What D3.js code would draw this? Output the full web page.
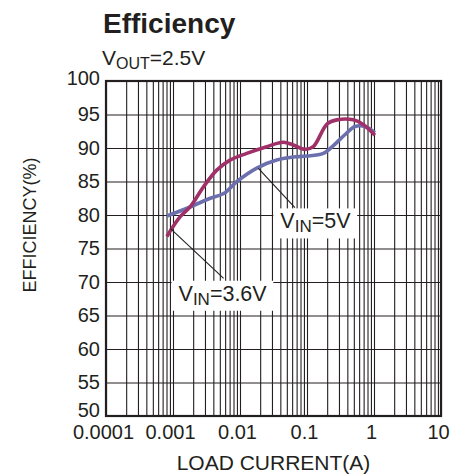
<!DOCTYPE html>
<html lang="en">
<head>
    <meta charset="UTF-8">
    <title>Efficiency</title>
    <script src="https://d3js.org/d3.v7.min.js"></script>
    <style>
        body {
            margin: 0;
            background-color: #ffffff;
            font-family: "Liberation Sans", Arial, sans-serif;
        }
        svg text {
            fill: #231f20;
        }
    </style>
</head>
<body>
    <svg id="chart" width="460" height="474"></svg>
    <script>
        // load current (A) and efficiency (%)
        const current36 = [0.00081, 0.00128, 0.0018, 0.00285, 0.0045, 0.0071, 0.0126, 0.025, 0.0444, 0.0625, 0.093, 0.124, 0.2, 0.28, 0.49, 0.69, 1.03];
        const eff36     = [76.8,    79.75,   81.2,   84.2,    86.7,   88.2,   89.2,   90.2,  90.85,  90.45,  89.8,  90.2,  93.6, 94.2, 94.2, 93.5, 91.9];
        const current5  = [0.00081, 0.0018, 0.0036, 0.0057, 0.009, 0.0178, 0.0353, 0.0703, 0.099, 0.175, 0.25, 0.36, 0.52, 0.73, 1.03];
        const eff5      = [79.85,   81.2,   82.5,   83.2,   85.0,  87.0,   88.2,   88.7,   88.8,  89.2,  90.4, 91.9, 93.2, 93.2, 92.3];

        const xMajor = [0.0001, 0.001, 0.01, 0.1, 1, 10];
        const xLabels = ['0.0001', '0.001', '0.01', '0.1', '1', '10'];
        const yTicks = [50, 55, 60, 65, 70, 75, 80, 85, 90, 95, 100];

        const margin = { top: 81, left: 106, right: 19, bottom: 58 };
        const svg = d3.select('#chart');
        const width = 460 - margin.left - margin.right;
        const height = 474 - margin.top - margin.bottom;

        const xScale = d3.scaleLog().domain([0.0001, 10]).range([0, width]);
        const yScale = d3.scaleLinear().domain([50, 100]).range([height, 0]);

        const g = svg.append('g').attr('transform', `translate(${margin.left},${margin.top})`);

        // minor + major vertical grid lines
        const xGridValues = [];
        xMajor.slice(0, -1).forEach(d => {
            for (let k = 1; k <= 9; k++) xGridValues.push(d * k);
        });
        xGridValues.push(10);

        const xGrid = g.append('g')
            .attr('transform', `translate(0,${height})`)
            .call(d3.axisBottom(xScale).tickValues(xGridValues).tickSize(-height).tickFormat(''));
        const yGrid = g.append('g')
            .call(d3.axisLeft(yScale).tickValues(yTicks).tickSize(-width).tickFormat(''));
        [xGrid, yGrid].forEach(a => {
            a.select('.domain').remove();
            a.selectAll('line').attr('stroke', '#231f20').attr('stroke-width', 1.1);
        });

        // tick labels
        const xAxis = g.append('g')
            .attr('transform', `translate(0,${height})`)
            .call(d3.axisBottom(xScale).tickValues(xMajor).tickSize(0).tickPadding(9)
                .tickFormat((d, i) => xLabels[i]));
        xAxis.select('.domain').remove();
        xAxis.selectAll('text').attr('font-size', 20).attr('dx', -3)
            .attr('font-family', '"Liberation Sans", Arial, sans-serif');

        const yAxis = g.append('g')
            .call(d3.axisLeft(yScale).tickValues(yTicks).tickSize(0).tickPadding(6));
        yAxis.select('.domain').remove();
        yAxis.selectAll('text').attr('font-size', 20)
            .attr('font-family', '"Liberation Sans", Arial, sans-serif')
            .attr('dy', d => d === 50 ? '0.02em' : d === 100 ? '0.17em' : '0.32em');

        // plot frame
        g.append('rect')
            .attr('width', width).attr('height', height)
            .attr('fill', 'none').attr('stroke', '#231f20').attr('stroke-width', 2.2);

        // curves
        const line = d3.line()
            .x(d => xScale(d[0]))
            .y(d => yScale(d[1]))
            .curve(d3.curveCatmullRom.alpha(0.5));

        g.append('path')
            .datum(d3.zip(current5, eff5))
            .attr('fill', 'none')
            .attr('stroke', '#6b6fae')
            .attr('stroke-width', 3.6)
            .attr('d', line);

        g.append('path')
            .datum(d3.zip(current36, eff36))
            .attr('fill', 'none')
            .attr('stroke', '#a03068')
            .attr('stroke-width', 3.6)
            .attr('d', line);

        // annotations with leader lines
        function label(x, y, sub, rest, leader) {
            g.append('line')
                .attr('x1', xScale(leader[0])).attr('y1', yScale(leader[1]))
                .attr('x2', xScale(leader[2])).attr('y2', yScale(leader[3]))
                .attr('stroke', '#231f20').attr('stroke-width', 1.1);
            const box = g.append('rect').attr('fill', '#ffffff');
            const t = g.append('text')
                .attr('x', xScale(x)).attr('y', yScale(y))
                .attr('font-size', 21.5);
            t.append('tspan').text('V');
            t.append('tspan').attr('font-size', 17).attr('dy', 4).text(sub);
            t.append('tspan').attr('dy', -4).text(rest);
            const bb = t.node().getBBox();
            box.attr('x', bb.x - 7).attr('y', bb.y - 1)
                .attr('width', bb.width + 13).attr('height', bb.height + 3);
        }
        label(0.04, 78.0, 'IN', '=5V', [0.0188, 86.97, 0.066, 81.1]);
        label(0.00121, 67.2, 'IN', '=3.6V', [0.00091, 78.0, 0.0057, 70.55]);

        // titles
        svg.append('text')
            .attr('x', 103).attr('y', 33)
            .attr('font-size', 28).attr('font-weight', 'bold')
            .text('Efficiency');

        const vout = svg.append('text')
            .attr('x', 102).attr('y', 65)
            .attr('font-size', 21);
        vout.append('tspan').text('V');
        vout.append('tspan').attr('font-size', 16).attr('dy', 4).text('OUT');
        vout.append('tspan').attr('dy', -4).text('=2.5V');

        svg.append('text')
            .attr('x', margin.left + width / 2).attr('y', 470)
            .attr('text-anchor', 'middle')
            .attr('font-size', 21)
            .text('LOAD CURRENT(A)');

        svg.append('text')
            .attr('transform', 'translate(36,225) rotate(-90)')
            .attr('text-anchor', 'middle')
            .attr('font-size', 18)
            .text('EFFICIENCY(%)');
    </script>
</body>
</html>
